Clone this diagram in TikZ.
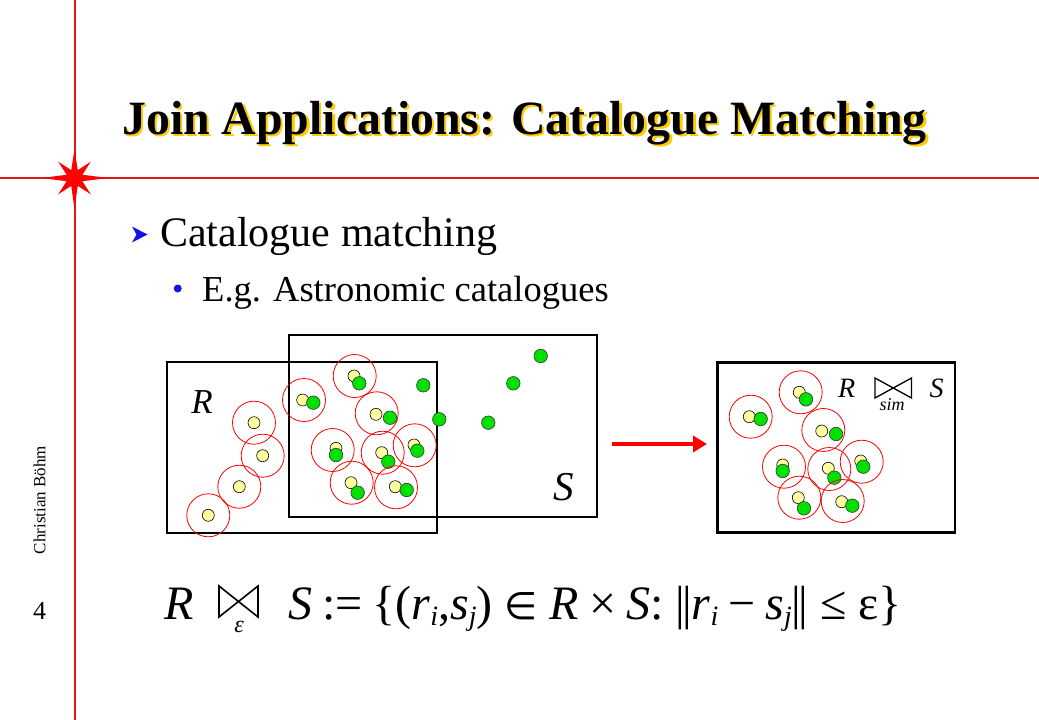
\documentclass[tikz,border=0pt]{standalone}
\usepackage{fontspec}
\setmainfont{Liberation Serif}
\newfontfamily\dvsans{DejaVu Sans}
\usetikzlibrary{arrows.meta}
\definecolor{slidered}{RGB}{228,24,24}
\definecolor{titleyellow}{RGB}{255,204,0}
\definecolor{dotyellow}{RGB}{255,255,160}
\definecolor{dotgreen}{RGB}{0,225,0}
\definecolor{bulletblue}{RGB}{20,20,225}
\newcommand{\lowsub}[1]{\raisebox{-0.3ex}{\fontsize{28}{28}\selectfont\textit{#1}}}
\newcommand{\dbar}{|\kern-3pt|}
\newcommand{\shadowed}[1]{{\color{titleyellow}\rlap{\hspace{2.5pt}\raisebox{-2.5pt}{#1}}}#1}
\begin{document}
\begin{tikzpicture}[x=1pt,y=-1pt,
  ring/.style={circle, draw=red, line width=0.8pt, minimum size=43pt, inner sep=0pt},
  ydot/.style={circle, draw=black, line width=0.6pt, fill=dotyellow, minimum size=12pt, inner sep=0pt},
  gdot/.style={circle, draw=black!80, line width=0.6pt, fill=dotgreen, minimum size=13.5pt, inner sep=0pt},
  box/.style={draw=black, line width=2pt, inner sep=0pt},
  txt/.style={inner sep=0pt, anchor=base west},
]
\useasboundingbox (0,0) rectangle (1039,720);
\fill[white] (0,0) rectangle (1039,720);
% frame lines and star
\draw[slidered, line width=2pt] (74.5,0) -- (74.5,720);
\draw[slidered, line width=2pt] (0,178) -- (1039,178);
\begin{scope}[shift={(74.5,178)}]
\fill[red] (0:34) -- (22.5:8.5) -- (45:23) -- (67.5:8.5) -- (90:31) -- (112.5:8.5) -- (135:23) -- (157.5:8.5) -- (180:33) -- (202.5:8.5) -- (225:23) -- (247.5:8.5) -- (270:29) -- (292.5:8.5) -- (315:23) -- (337.5:8.5) -- cycle;
\end{scope}
% title with yellow shadow
\node[txt, font=\fontsize{47.8}{50}\selectfont\bfseries] (title) at (122,134) {\shadowed{Join Applications: Catalogue Matching}};
% bullets
\fill[bulletblue] (132,226.5) -- (147.5,234.5) -- (132,242.5) -- (136.5,234.5) -- cycle;
\node[txt, font=\fontsize{42}{44}\selectfont] (b1) at (160,246) {Catalogue matching};
\node[circle, fill=bulletblue, minimum size=8pt, inner sep=0pt] (bdot) at (177.7,288.5) {};
\node[txt, font=\fontsize{36.5}{38}\selectfont] (b2) at (202,301) {E.g. Astronomic catalogues};
% side text
\node[rotate=90, font=\fontsize{17}{18}\selectfont, inner sep=0pt] (author) at (39.5,500) {Christian Böhm};
\node[font=\fontsize{26}{28}\selectfont, inner sep=0pt] (page) at (39.5,611) {4};
% boxes
\node[box, minimum width=269.4pt, minimum height=171pt] (boxR) at (302,447.2) {};
\node[box, minimum width=308pt, minimum height=182pt] (boxS) at (443.3,425.7) {};
\node[box, line width=2.4pt, minimum width=237.7pt, minimum height=170pt] (boxRes) at (836.2,447.3) {};
\node[font=\fontsize{35}{36}\selectfont\itshape, inner sep=0pt] (labR) at (202,401.7) {R};
\node[font=\fontsize{41}{42}\selectfont\itshape, inner sep=0pt] (labS) at (564,486.7) {S};
% left: R-only points
\foreach \x/\y [count=\i] in {254/422.7, 262.7/455.7, 239.3/486.7, 208.3/515.3}{
  \node[ring] (lr\i) at (\x,\y) {};
  \node[ydot] (ly\i) at (\x,\y) {};
}
% left: matched pairs
\foreach \rx/\ry/\yx/\yy/\gx/\gy [count=\i] in {
  304/400/302.7/400/313.3/402.7,
  354.7/376/354/376/359.3/383.3,
  376.7/413.3/376/414.3/390/417.7,
  332.7/450/336/448.3/336/455,
  382.7/452.7/381.7/452.7/388.3/461.7,
  414.7/445.3/414/445/417.3/450.7,
  351.7/482.7/351/482.7/357.7/492.7,
  396/487.3/395.3/486.7/406.7/490}{
  \node[ring] (lpr\i) at (\rx,\ry) {};
  \node[ydot] (lpy\i) at (\yx,\yy) {};
  \node[gdot] (lpg\i) at (\gx,\gy) {};
}
% left: S-only points
\foreach \x/\y [count=\i] in {423.3/385.3, 439.3/419.3, 488.3/422.7, 513.3/383.3, 540.7/356}{
  \node[gdot] (lg\i) at (\x,\y) {};
}
% arrow
\coordinate (a1) at (612,444);
\coordinate (a2) at (707,444);
\draw[red, line width=4.7pt, -{Triangle[length=14pt,width=16pt]}] (a1) -- (a2);
% right: result pairs
\foreach \rx/\ry/\yx/\yy/\gx/\gy [count=\i] in {
  800.7/392.3/799.3/392.3/806/399.3,
  750.7/416.7/749.3/416.7/760.7/419,
  823.3/430/821.7/431/836/434,
  784/466.7/782.7/465/782.7/471,
  829.3/469/828.3/468.3/834.3/477.7,
  861.7/461.7/860.7/461/863.3/466.7,
  799.3/497.7/798.3/497.7/804/508.3,
  842.7/501/841.7/501.7/852.3/505.7}{
  \node[ring] (rpr\i) at (\rx,\ry) {};
  \node[ydot] (rpy\i) at (\yx,\yy) {};
  \node[gdot] (rpg\i) at (\gx,\gy) {};
}
% right label
\node[font=\fontsize{28}{30}\selectfont\itshape, inner sep=0pt] (resR) at (846.7,388.3) {R};
\draw[line width=1.3pt, line join=miter] (875,378) -- (875,398) -- (911.5,378) -- (911.5,398) -- cycle;
\node[font=\fontsize{18}{19}\selectfont\itshape, inner sep=0pt] (sim) at (892,405) {sim};
\node[font=\fontsize{28}{30}\selectfont\itshape, inner sep=0pt] (resS) at (936.7,388.3) {S};
% formula
\node[txt, font=\fontsize{48}{50}\selectfont\itshape] (fR) at (164,619) {R};
\draw[line width=1.6pt, line join=miter] (219,586) -- (219,617) -- (258,586) -- (258,617) -- cycle;
\node[font=\fontsize{24}{26}\selectfont\itshape, inner sep=0pt] (feps) at (239,627) {ε};
\node[txt, font=\fontsize{48}{50}\selectfont] (frest) at (288,619) {\textit{S}\hspace{10pt}:=\hspace{10pt}\{(\textit{r}\lowsub{i},\textit{s}\lowsub{j})\hspace{12pt}{\fontsize{38}{40}\dvsans ∈}\hspace{12pt}\textit{R}\hspace{10pt}×\hspace{10pt}\textit{S}:\hspace{12pt}\dbar\textit{r}\lowsub{i}\hspace{10pt}−\hspace{10pt}\textit{s}\lowsub{j}\dbar\hspace{12pt}≤\hspace{12pt}ε\}};
\end{tikzpicture}
\end{document}
